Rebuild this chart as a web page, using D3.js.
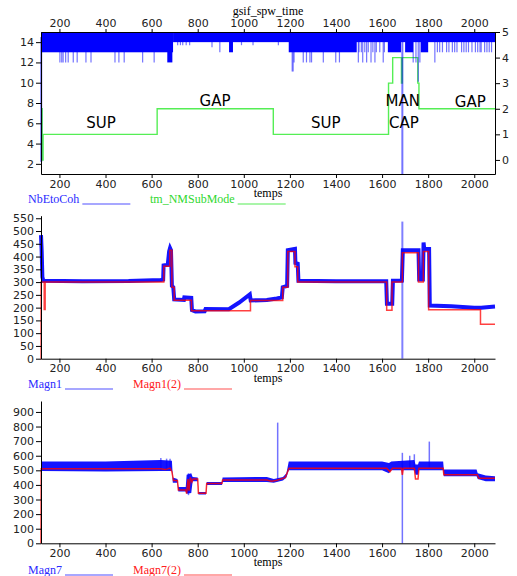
<!DOCTYPE html>
<html>
<head>
<meta charset="utf-8">
<script src="https://cdn.jsdelivr.net/npm/d3@7"></script>
<style>
body { margin: 0; background: #fff; }
svg text { font-family: "DejaVu Sans", sans-serif; }
.axis text { font-size: 11px; fill: #222; }
.axis path, .axis line { stroke: #000; }
.lbl { font-family: "Liberation Serif", serif; font-size: 12px; }
.ann { font-size: 15px; fill: #000; }
</style>
</head>
<body>
<svg id="chart" width="517" height="576"></svg>
<script>
//data
const xTicks = [200, 400, 600, 800, 1000, 1200, 1400, 1600, 1800, 2000]

// panel 1 : NbEtoCoh (left axis) - dense band segments [t0, t1, lo, hi]
const nbBands = [
    [120, 693, 13, 15], [668, 690, 12, 15], [693, 2090, 14, 15], [936, 953, 13, 15],
    [1195, 1490, 13, 15], [1625, 1682, 13, 15], [1700, 1735, 13, 15], [1768, 1800, 13, 15]
]
// single drops [t, lo]
const nbDips = [
    [121, 2.2], [202, 12], [210, 12], [216, 12], [227, 12], [238, 12], [260, 12], [277, 12],
    [315, 12], [337, 12], [441, 12], [458, 12], [481, 12], [561, 12], [611, 12],
    [713, 13.7], [725, 13.7], [735, 13.7], [750, 13.7], [765, 13.7], [862, 13.5], [896, 13],
    [990, 13.7], [1040, 13.7], [1150, 13.7], [1210, 11.1], [1214, 11.1], [1218, 12],
    [1258, 12], [1272, 12], [1287, 12], [1294, 12], [1345, 12], [1399, 12], [1415, 12],
    [1497, 12], [1500, 13], [1510, 13], [1516, 12], [1525, 13], [1533, 12], [1540, 13],
    [1552, 12], [1560, 13], [1569, 12], [1575, 13], [1590, 13], [1605, 12], [1610, 13],
    [1688, 1.0], [1735, 12], [1747, 12], [1757, 10.1], [1764, 12], [1829, 12],
    [1840, 13], [1850, 13], [1862, 13], [1880, 13], [1890, 13], [1905, 13], [1915, 13],
    [1925, 13], [1945, 13], [1955, 13], [1965, 13], [1975, 13], [1990, 13], [2005, 13],
    [2015, 13], [2025, 13], [2030, 13], [2045, 13], [2055, 13], [2065, 13], [2075, 13]
]
// panel 1 : tm_NMSubMode (right axis) [t, value]
const subMode = [
    [120, 2], [125, 0], [129, 1], [624, 2], [1128, 1], [1628, 3], [1646, 4], [1684, 3],
    [1688, 4], [1755, 3], [1760, 2], [2090, 2]
]
const subModeLabels = [
    ['SUP', 380, 1.25], ['GAP', 875, 2.1], ['SUP', 1356, 1.25],
    ['MAN', 1690, 2.1], ['CAP', 1695, 1.25], ['GAP', 1983, 2.05]
]

// panel 2 : Magn1 [t, value]
const magn1 = [
    [120, 484], [123, 420], [126, 320], [130, 305], [300, 303], [500, 304], [640, 308], [650, 310],
    [652, 365], [670, 368], [676, 420], [680, 433], [684, 425], [688, 285], [694, 280], [698, 232],
    [740, 230], [742, 240], [772, 238], [775, 190], [790, 185], [830, 186], [834, 195], [935, 194],
    [980, 220], [1026, 252], [1030, 228], [1100, 230], [1143, 236], [1165, 240], [1169, 280],
    [1188, 285], [1191, 425], [1222, 430], [1224, 375], [1234, 372], [1237, 305], [1400, 303],
    [1618, 303], [1621, 215], [1644, 215], [1647, 305], [1686, 306], [1690, 425], [1758, 425],
    [1761, 310], [1777, 310], [1780, 455], [1783, 430], [1804, 430], [1807, 208], [1900, 205],
    [2000, 200], [2030, 200], [2090, 204]
]
const magn1Spikes = [[1688, 0, 537]]
// panel 2 : Magn1(2) steps [t, value]
const magn1b = [
    [120, 0], [120.5, 300], [134, 193], [138, 300], [653, 362], [679, 425], [688, 280], [698, 229],
    [773, 188], [1029, 228], [1169, 280], [1191, 420], [1222, 360], [1234, 300], [1620, 190],
    [1643, 300], [1688, 415], [1758, 300], [1779, 420], [1802, 192], [2027, 135], [2090, 135]
]

// panel 3 : Magn7 envelope [t, lo, hi]
const magn7 = [
    [120, 495, 560], [400, 492, 560], [640, 495, 570], [688, 495, 565], [692, 415, 450],
    [712, 415, 440], [716, 355, 385], [748, 355, 385], [752, 340, 470], [772, 345, 480],
    [778, 425, 455], [800, 425, 450], [803, 335, 352], [836, 335, 352], [839, 400, 420],
    [905, 400, 420], [908, 420, 450], [1100, 420, 455], [1130, 415, 440], [1170, 430, 455],
    [1185, 450, 480], [1195, 500, 560], [1600, 500, 560], [1630, 480, 550], [1640, 500, 560],
    [1740, 500, 570], [1745, 470, 540], [1756, 470, 540], [1760, 500, 560], [1865, 500, 560],
    [1868, 460, 505], [2010, 460, 505], [2015, 440, 480], [2050, 425, 465], [2090, 425, 460]
]
const magn7Spikes = [
    [640, 500, 585], [665, 500, 580], [680, 500, 580], [760, 330, 480], [1147, 430, 827],
    [1688, 0, 620], [1720, 510, 600], [1740, 500, 610], [1805, 520, 697]
]
// panel 3 : Magn7(2) [t, value]
const magn7b = [
    [120, 0], [121, 510], [640, 510], [660, 505], [680, 515], [688, 490], [695, 430], [712, 430],
    [716, 365], [748, 365], [752, 340], [758, 440], [762, 360], [768, 450], [775, 420], [780, 440],
    [800, 440], [803, 343], [836, 343], [839, 410], [905, 410], [908, 433], [1100, 433], [1120, 425],
    [1140, 430], [1180, 450], [1196, 514], [1620, 514], [1634, 490], [1645, 514], [1684, 514],
    [1688, 468], [1692, 514], [1740, 514], [1745, 440], [1756, 440], [1760, 514], [1865, 514],
    [1868, 470], [2013, 470], [2020, 445], [2090, 445]
]

const legends = [
    [['NbEtoCoh', '#2b2bff', '#8a8aff'], ['tm_NMSubMode', '#2fd82f', '#8cf28c']],
    [['Magn1', '#2b2bff', '#8a8aff'], ['Magn1(2)', '#ff2020', '#ff8a8a']],
    [['Magn7', '#2b2bff', '#8a8aff'], ['Magn7(2)', '#ff2020', '#ff8a8a']]
]

//dimensions
const svg = d3.select('#chart')
const left = 41, right = 495
const x = d3.scaleLinear().domain([120, 2090]).range([left, right])

const p1 = { top: 32, bottom: 174 }
const p2 = { top: 215.7, bottom: 358.7 }
const p3 = { top: 401, bottom: 543.3 }

const y1L = d3.scaleLinear().domain([1, 15]).range([p1.bottom, p1.top])
const y1R = d3.scaleLinear().domain([-0.55, 5]).range([p1.bottom, p1.top])
const y2 = d3.scaleLinear().domain([0, 560]).range([p2.bottom, p2.top])
const y3 = d3.scaleLinear().domain([0, 975]).range([p3.bottom, p3.top])

//panel 1
svg.append('path')
    .attr('d', d3.line().x(d => x(d[0])).y(d => y1R(d[1])).curve(d3.curveStepAfter)(subMode))
    .attr('fill', 'none')
    .attr('stroke', '#55ee55')
    .attr('stroke-width', 1.4)

svg.append('g').selectAll('rect')
    .data(nbBands)
    .join('rect')
    .attr('x', d => x(d[0]))
    .attr('width', d => x(d[1]) - x(d[0]))
    .attr('y', d => y1L(d[3]))
    .attr('height', d => y1L(d[2]) - y1L(d[3]))
    .attr('fill', '#0000ff')

svg.append('g').selectAll('line')
    .data(nbDips)
    .join('line')
    .attr('x1', d => x(d[0])).attr('x2', d => x(d[0]))
    .attr('y1', y1L(14.5))
    .attr('y2', d => y1L(d[1]))
    .attr('stroke', 'rgba(0,0,255,0.55)')
    .attr('stroke-width', d => d[1] < 5 ? 2 : 1.2)

svg.append('g').selectAll('text')
    .data(subModeLabels)
    .join('text')
    .attr('class', 'ann')
    .attr('x', d => x(d[1]))
    .attr('y', d => y1R(d[2]))
    .attr('text-anchor', 'middle')
    .text(d => d[0])

//panel 2
svg.append('path')
    .attr('d', d3.line().x(d => x(d[0])).y(d => y2(d[1]))(magn1))
    .attr('fill', 'none')
    .attr('stroke', '#1414ff')
    .attr('stroke-width', 4)

svg.append('g').selectAll('line')
    .data(magn1Spikes)
    .join('line')
    .attr('x1', d => x(d[0])).attr('x2', d => x(d[0]))
    .attr('y1', d => y2(d[1])).attr('y2', d => y2(d[2]))
    .attr('stroke', 'rgba(0,0,255,0.5)')
    .attr('stroke-width', 2)

svg.append('path')
    .attr('d', d3.line().x(d => x(d[0])).y(d => y2(d[1])).curve(d3.curveStepAfter)(magn1b))
    .attr('fill', 'none')
    .attr('stroke', 'rgba(255,0,0,0.75)')
    .attr('stroke-width', 1.5)

//panel 3
svg.append('path')
    .attr('d', d3.area().x(d => x(d[0])).y0(d => y3(d[1])).y1(d => y3(d[2]))(magn7))
    .attr('fill', '#1414ff')

svg.append('g').selectAll('line')
    .data(magn7Spikes)
    .join('line')
    .attr('x1', d => x(d[0])).attr('x2', d => x(d[0]))
    .attr('y1', d => y3(d[1])).attr('y2', d => y3(d[2]))
    .attr('stroke', 'rgba(0,0,255,0.55)')
    .attr('stroke-width', 1.5)

svg.append('path')
    .attr('d', d3.line().x(d => x(d[0])).y(d => y3(d[1]))(magn7b))
    .attr('fill', 'none')
    .attr('stroke', 'rgba(255,0,0,0.8)')
    .attr('stroke-width', 1.5)

//axes
const fmt = d3.format('d')
function styleAxis(g) {
    g.attr('class', 'axis')
    g.selectAll('text').attr('font-size', null).attr('font-family', null)
}
function xAxisAt(yPos) {
    svg.append('g')
        .attr('transform', `translate(0, ${yPos})`)
        .call(d3.axisBottom(x).tickValues(xTicks).tickFormat(fmt).tickSize(4).tickSizeOuter(0).tickPadding(2))
        .call(styleAxis)
}
xAxisAt(p1.bottom)
xAxisAt(p2.bottom)
xAxisAt(p3.bottom)

svg.append('g')
    .attr('transform', `translate(0, ${p1.top})`)
    .call(d3.axisTop(x).tickValues(xTicks).tickFormat(fmt).tickSize(3).tickSizeOuter(0).tickPadding(2))
    .call(styleAxis)

svg.append('g')
    .attr('transform', `translate(${left}, 0)`)
    .call(d3.axisLeft(y1L).tickValues([2, 4, 6, 8, 10, 12, 14]).tickFormat(fmt).tickSize(5).tickSizeOuter(0).tickPadding(2))
    .call(styleAxis)

svg.append('g')
    .attr('transform', `translate(${right}, 0)`)
    .call(d3.axisRight(y1R).tickValues([0, 1, 2, 3, 4, 5]).tickFormat(fmt).tickSize(5).tickSizeOuter(0).tickPadding(2))
    .call(styleAxis)

svg.append('g')
    .attr('transform', `translate(${left}, 0)`)
    .call(d3.axisLeft(y2).tickValues(d3.range(0, 551, 50)).tickFormat(fmt).tickSize(5).tickSizeOuter(0).tickPadding(2))
    .call(styleAxis)

svg.append('g')
    .attr('transform', `translate(${left}, 0)`)
    .call(d3.axisLeft(y3).tickValues(d3.range(0, 901, 100)).tickFormat(fmt).tickSize(5).tickSizeOuter(0).tickPadding(2))
    .call(styleAxis)

//labels
const midX = (left + right) / 2
svg.append('text').attr('class', 'lbl')
    .attr('x', midX).attr('y', 15).attr('text-anchor', 'middle')
    .text('gsif_spw_time')

;[p1.bottom, p2.bottom, p3.bottom].forEach(b => {
    svg.append('text').attr('class', 'lbl')
        .attr('x', midX).attr('y', b + 23).attr('text-anchor', 'middle')
        .text('temps')
})

//legends
const legendY = [203, 388, 574]
legends.forEach((items, i) => {
    let lx = 28
    items.forEach(([name, textColor, lineColor]) => {
        const t = svg.append('text').attr('class', 'lbl')
            .attr('x', lx).attr('y', legendY[i])
            .attr('fill', textColor)
            .text(name)
        const tw = t.node().getComputedTextLength()
        svg.append('line')
            .attr('x1', lx + tw + 3).attr('x2', lx + tw + 51)
            .attr('y1', legendY[i] + 1).attr('y2', legendY[i] + 1)
            .attr('stroke', lineColor)
            .attr('stroke-width', 1.5)
        lx = i === 0 ? 150 : 133
    })
})
</script>
</body>
</html>
